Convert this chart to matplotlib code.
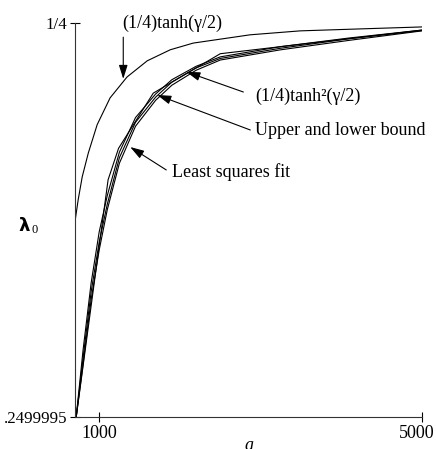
#!/usr/bin/env python3
"""
lambda_0 versus a: tanh curves, bounds and least squares fit
"""
import matplotlib
matplotlib.use('Agg')
import matplotlib.pyplot as plt
import matplotlib.transforms as mtransforms
import numpy as np

plt.rcParams['font.family'] = ['Liberation Serif', 'DejaVu Serif']

# gaps below 1/4, in units of 1e-9
a_tanh = [700, 740, 790, 865, 975, 1135, 1345, 1595, 1880, 2165, 2870, 3490, 4235, 5000]
tanh_gap = [252, 224, 195, 165, 129, 95, 68.5, 48, 34, 25.5, 15, 10, 7.5, 5]

a_grid = [715, 800, 900, 1000, 1100, 1250, 1450, 1700, 1900, 2200, 2500, 3250, 4100, 5000]
tanh2_gap = [500, 415, 330, 265, 219, 164, 120, 90, 72, 55, 43, 30, 19, 9]
upper_gap = [500, 425, 341, 278, 230, 171, 126, 94, 75, 57, 45, 32, 20, 9.5]
lower_gap = [500, 433, 351, 288, 237, 178, 131, 98, 79, 60, 47, 34, 22, 10]

a_fit = [715, 1110, 1240, 1670, 2500, 5000]
fit_gap = [500, 199, 159, 89, 39, 9]

x_ticks = [1000, 5000]
y_ticks = [0.2499995, 0.25]
y_ticklabels = ['.2499995', '1/4']


def lam(gap):
    return 0.25 - np.array(gap) * 1e-9


fig = plt.figure(figsize=(4.36, 4.49), dpi=100)
ax = fig.add_axes([0.172, 0.0713, 0.796, 0.8775])

lw = 0.8
ax.plot(a_tanh, lam(tanh_gap), color='black', lw=lw)
ax.plot(a_grid, lam(tanh2_gap), color='black', lw=lw)
ax.plot(a_grid, lam(upper_gap), color='black', lw=lw)
ax.plot(a_grid, lam(lower_gap), color='black', lw=lw)
ax.plot(a_fit, lam(fit_gap), color='black', lw=lw)

ax.set_xlim(700, 5000)
ax.set_ylim(0.2499995, 0.25)
ax.set_xticks(x_ticks)
ax.set_xticklabels([str(t) for t in x_ticks])
ax.set_yticks(y_ticks)
ax.set_yticklabels(y_ticklabels)
ax.tick_params(direction='inout', length=7, width=0.8, labelsize=13, pad=2)
ax.tick_params(axis='y', labelsize=12.2, pad=2)

# pull the last x label a little to the left so it stays inside the figure
shift = mtransforms.ScaledTranslation(-5 / 100, 0, fig.dpi_scale_trans)
last = ax.get_xticklabels()[-1]
last.set_transform(last.get_transform() + shift)

ax.spines['top'].set_visible(False)
ax.spines['right'].set_visible(False)
for s in ('left', 'bottom'):
    ax.spines[s].set_linewidth(0.8)
    ax.spines[s].set_color('#333333')

ax.set_xlabel('a', fontsize=13, style='italic', labelpad=-3)

# lambda_0 label
fig.text(0.042, 0.497, 'λ', family='DejaVu Sans', fontweight='bold', fontsize=13,
         ha='left', va='center')
fig.text(0.072, 0.487, '0', fontsize=9, ha='left', va='center')

arrow = dict(arrowstyle='-|>,head_length=0.7,head_width=0.22', color='black',
             lw=0.8, shrinkA=0, shrinkB=0, mutation_scale=12)

fs = 13
# (1/4)tanh
ax.text(1285, lam(0), '(1/4)tanh(γ/2)', fontsize=fs, ha='left', va='center')
ax.annotate('', xy=(1298, lam(71)), xytext=(1298, lam(18)), arrowprops=arrow)

# (1/4)tanh^2
ax.text(2934, lam(92.6), '(1/4)tanh²(γ/2)', fontsize=fs, ha='left', va='center')
ax.annotate('', xy=(2079, lam(62)), xytext=(2786, lam(87.6)), arrowprops=arrow)

# bounds
ax.text(2934, lam(137), 'Upper and lower bound', fontsize=fs, ha='left', va='center')
ax.annotate('', xy=(1719, lam(91.4)), xytext=(2872, lam(135.8)), arrowprops=arrow)

# least squares
ax.text(1905, lam(189), 'Least squares fit', fontsize=fs, ha='left', va='center')
ax.annotate('', xy=(1384, lam(157.4)), xytext=(1831, lam(186.5)), arrowprops=arrow)

plt.savefig('out.png', dpi=100)
